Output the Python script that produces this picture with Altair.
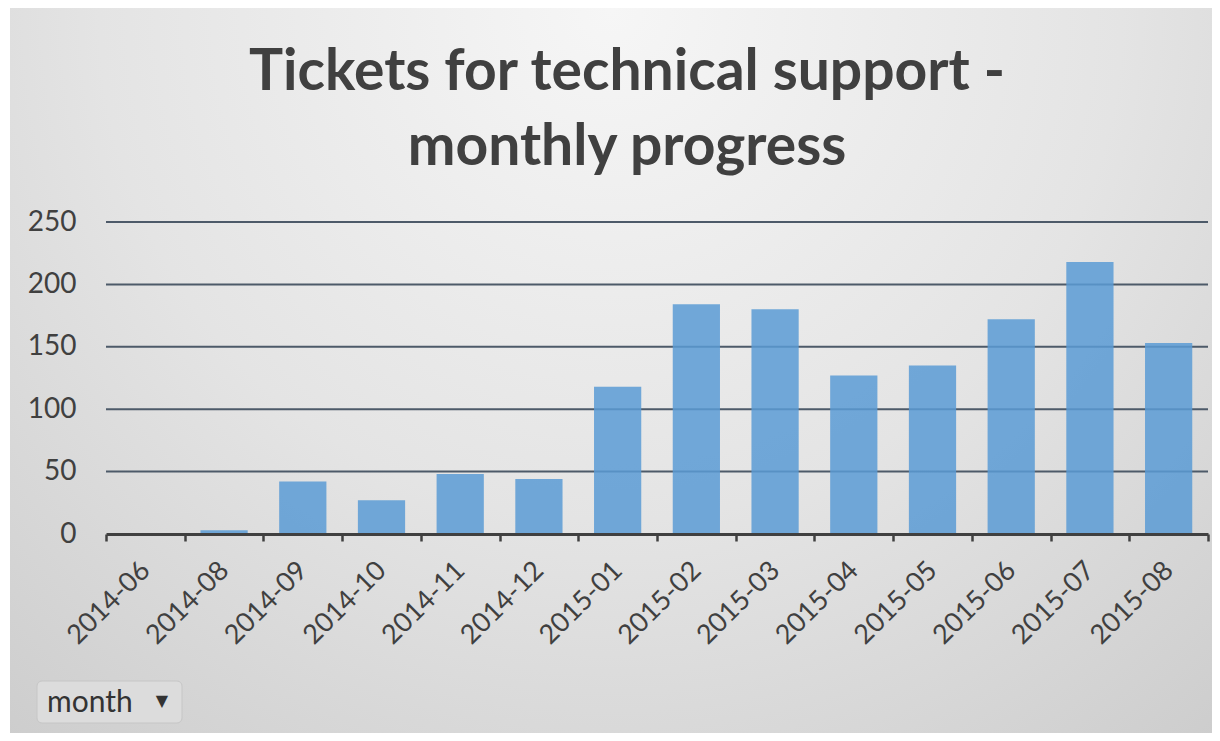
import altair as alt
import pandas as pd

months = ["2014-06", "2014-08", "2014-09", "2014-10", "2014-11", "2014-12", "2015-01",
          "2015-02", "2015-03", "2015-04", "2015-05", "2015-06", "2015-07", "2015-08"]
tickets = [0, 3, 42, 27, 48, 44, 118, 184, 180, 127, 135, 172, 218, 153]
y_ticks = [0, 50, 100, 150, 200, 250]
grid_values = [50, 100, 150, 200, 250]
title_lines = ["Tickets for technical support -", "monthly progress"]

W, H = 1102, 312
PAD = {"left": 98, "top": 214, "right": 4, "bottom": 199}

df = pd.DataFrame({"month": months, "tickets": tickets})
grid_df = pd.DataFrame({"v": grid_values})
one = pd.DataFrame({"a": [0]})

yscale = alt.Scale(domain=[0, 250], nice=False)
xscale = alt.Scale(paddingInner=0, paddingOuter=0)

yaxis = alt.Axis(values=y_ticks, labelFontSize=28, labelFont="Lato",
                 labelColor="#404040", labelPadding=30, ticks=False,
                 domain=False, grid=False, zindex=1)

bg = alt.Chart(one).mark_rect(
    fill=alt.RadialGradient(
        gradient="radial",
        x1=0.5, y1=0.2, r1=0.0,
        x2=0.5, y2=0.2, r2=0.85,
        stops=[
            alt.GradientStop(color="#f6f6f6", offset=0),
            alt.GradientStop(color="#e4e4e4", offset=0.5),
            alt.GradientStop(color="#c9c9c9", offset=1),
        ],
    )
).encode(
    x=alt.value(-PAD["left"] + 2), x2=alt.value(W + PAD["right"]),
    y=alt.value(-PAD["top"]), y2=alt.value(H + PAD["bottom"]),
)

grid = alt.Chart(grid_df).mark_rule(color="#4d5a69", strokeWidth=2).encode(
    y=alt.Y("v:Q", scale=yscale, title=None, axis=yaxis)
)

bars = alt.Chart(df).mark_bar(
    color="#5b9bd5", opacity=0.85, width=alt.RelativeBandSize(0.6)
).encode(
    x=alt.X("month:N", sort=months, scale=xscale, title=None,
            axis=alt.Axis(labelAngle=-45, labelAlign="right", labelBaseline="middle",
                          labelFontSize=27, labelFont="Lato", labelColor="#404040",
                          labelPadding=25, tickColor="#404040", tickSize=7, tickWidth=2.5,
                          domainColor="#404040", domainWidth=3, tickBand="extent",
                          grid=False, zindex=1)),
    y=alt.Y("tickets:Q", scale=yscale, title=None, axis=yaxis),
)

title1 = alt.Chart(one).mark_text(
    text=title_lines[0], font="Lato", fontSize=57, fontWeight="bold", color="#404040",
    align="center", baseline="alphabetic"
).encode(x=alt.value(521), y=alt.value(-132))

title2 = alt.Chart(one).mark_text(
    text=title_lines[1], font="Lato", fontSize=57, fontWeight="bold", color="#404040",
    align="center", baseline="alphabetic"
).encode(x=alt.value(521), y=alt.value(-57))

btn = alt.Chart(one).mark_rect(
    fill="#dcdcdc", stroke="#c6c6c6", strokeWidth=1, cornerRadius=5
).encode(x=alt.value(-69), x2=alt.value(76), y=alt.value(459), y2=alt.value(501))

btn_text = alt.Chart(one).mark_text(
    text="month", font="Lato", fontSize=30, color="#333333", align="left", baseline="alphabetic"
).encode(x=alt.value(-59), y=alt.value(490))

btn_tri = alt.Chart(one).mark_text(
    text="▼", font="DejaVu Sans", fontSize=16, color="#333333", align="center", baseline="middle"
).encode(x=alt.value(56), y=alt.value(479))

chart = alt.layer(bg, grid, bars, title1, title2, btn, btn_text, btn_tri).properties(
    width=W, height=H,
    autosize=alt.AutoSizeParams(type="none"),
    padding=PAD,
    background="white",
).configure_view(stroke=None)

chart.save("out.html", embed_options={"renderer": "svg", "actions": False})
